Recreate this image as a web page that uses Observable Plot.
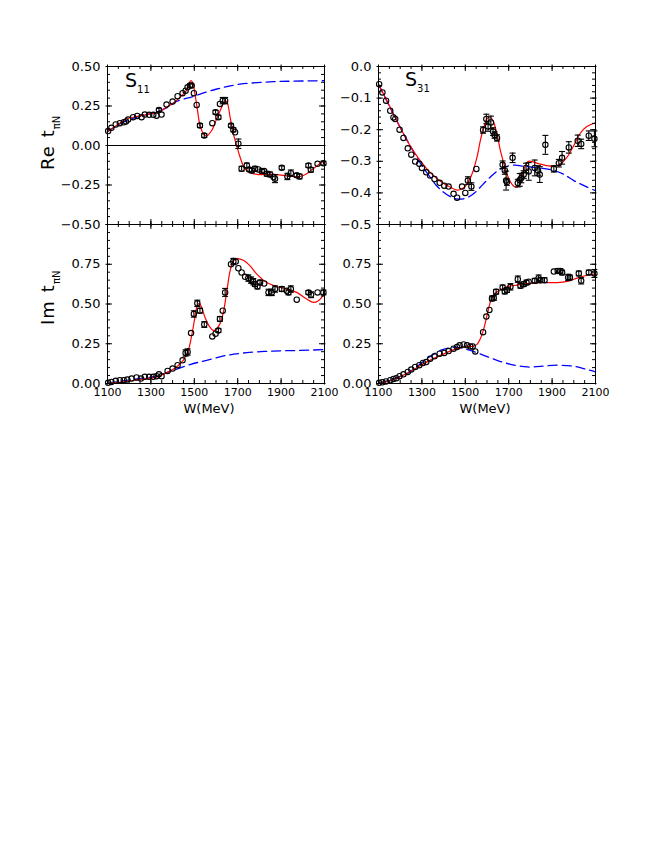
<!DOCTYPE html>
<html><head><meta charset="utf-8">
<script src="https://cdn.jsdelivr.net/npm/d3@7"></script>
<script src="https://cdn.jsdelivr.net/npm/@observablehq/plot@0.6"></script>
<style>
body{margin:0;background:#fff;}
#root{position:relative;width:654px;height:846px;overflow:hidden;font-family:"DejaVu Sans",sans-serif;}
.pan{position:absolute;}
#over{position:absolute;left:0;top:0;pointer-events:none;}
</style></head><body><div id="root"></div>
<script>
// ---- data: [W (MeV), value, error] ----
const s11ReData = [[1103,0.091,0],[1118,0.112,0],[1138,0.133,0],[1157,0.141,0],[1175,0.147,0],[1185,0.152,0],[1195,0.164,0],[1218,0.179,0],[1237,0.187,0],[1257,0.179,0],[1272,0.196,0],[1292,0.194,0],[1311,0.194,0],[1326,0.189,0],[1337,0.225,0.01],[1349,0.196,0],[1372,0.259,0],[1400,0.278,0],[1423,0.312,0],[1446,0.331,0],[1460,0.347,0],[1469,0.368,0],[1480,0.379,0.01],[1488,0.379,0],[1498,0.331,0],[1511,0.257,0],[1526,0.126,0.012],[1546,0.063,0.012],[1583,0.141,0],[1598,0.211,0.012],[1611,0.179,0.012],[1618,0.263,0],[1631,0.284,0.02],[1642,0.284,0.02],[1669,0.126,0.01],[1680,0.099,0.012],[1688,0.084,0],[1703,0.011,0.03],[1718,-0.147,0.015],[1742,-0.126,0.015],[1754,-0.152,0.012],[1765,-0.158,0.015],[1780,-0.147,0.015],[1795,-0.152,0],[1811,-0.162,0.012],[1822,-0.162,0],[1834,-0.179,0.015],[1849,-0.183,0.015],[1865,-0.2,0],[1872,-0.21,0.025],[1903,-0.141,0.012],[1929,-0.196,0.02],[1945,-0.175,0.02],[1972,-0.189,0.012],[1985,-0.196,0.015],[2026,-0.126,0.012],[2037,-0.154,0.015],[2068,-0.116,0],[2095,-0.112,0.012]];
const s11ReFit = [[1100,0.088],[1150,0.135],[1188,0.168],[1250,0.188],[1295,0.2],[1340,0.215],[1372,0.242],[1405,0.27],[1434,0.305],[1465,0.35],[1483,0.41],[1492,0.4],[1503,0.326],[1514,0.23],[1526,0.13],[1542,0.074],[1557,0.06],[1580,0.095],[1603,0.168],[1626,0.242],[1642,0.284],[1652,0.27],[1665,0.18],[1680,0.074],[1695,0.0],[1711,-0.074],[1729,-0.137],[1749,-0.168],[1788,-0.183],[1865,-0.183],[1942,-0.194],[1988,-0.196],[2018,-0.179],[2057,-0.137],[2100,-0.095]];
const s11ReBg = [[1100,0.088],[1175,0.15],[1249,0.185],[1320,0.21],[1372,0.238],[1420,0.28],[1495,0.31],[1550,0.336],[1600,0.356],[1650,0.373],[1711,0.388],[1790,0.398],[1865,0.404],[1950,0.407],[2100,0.41]];

const s31ReData = [[1103,-0.056,0],[1118,-0.082,0],[1135,-0.108,0],[1154,-0.14,0],[1169,-0.161,0],[1177,-0.166,0],[1197,-0.2,0],[1215,-0.226,0],[1235,-0.259,0],[1251,-0.279,0],[1269,-0.301,0],[1288,-0.308,0],[1300,-0.321,0],[1320,-0.335,0],[1338,-0.345,0],[1358,-0.356,0],[1382,-0.368,0],[1403,-0.377,0],[1423,-0.38,0],[1446,-0.403,0],[1462,-0.415,0],[1485,-0.38,0],[1500,-0.4,0],[1512,-0.361,0.012],[1528,-0.38,0.012],[1551,-0.324,0],[1582,-0.201,0.01],[1597,-0.166,0.015],[1605,-0.19,0.015],[1618,-0.177,0.02],[1628,-0.206,0.012],[1635,-0.217,0.01],[1646,-0.226,0.01],[1672,-0.311,0.012],[1682,-0.329,0.012],[1688,-0.361,0.03],[1692,-0.366,0.01],[1718,-0.289,0.015],[1742,-0.369,0.012],[1751,-0.359,0.02],[1758,-0.353,0.015],[1769,-0.342,0.012],[1780,-0.321,0.015],[1792,-0.332,0.028],[1820,-0.321,0.025],[1835,-0.329,0.015],[1843,-0.342,0.025],[1869,-0.248,0.03],[1908,-0.324,0.01],[1931,-0.306,0.012],[1946,-0.289,0.02],[1977,-0.256,0.018],[2018,-0.235,0.018],[2034,-0.245,0.015],[2069,-0.219,0.015],[2095,-0.229,0.025]];
const s31ReFit = [[1100,-0.056],[1154,-0.129],[1200,-0.193],[1246,-0.251],[1292,-0.298],[1338,-0.335],[1385,-0.363],[1431,-0.382],[1462,-0.391],[1485,-0.387],[1508,-0.372],[1531,-0.34],[1554,-0.287],[1569,-0.235],[1585,-0.193],[1600,-0.166],[1612,-0.159],[1628,-0.172],[1646,-0.214],[1662,-0.267],[1677,-0.305],[1692,-0.34],[1708,-0.365],[1722,-0.378],[1738,-0.382],[1753,-0.37],[1768,-0.33],[1791,-0.3],[1845,-0.309],[1906,-0.316],[1940,-0.308],[1968,-0.288],[2000,-0.25],[2029,-0.212],[2060,-0.19],[2100,-0.178]];
const s31ReBg = [[1100,-0.056],[1200,-0.193],[1292,-0.305],[1340,-0.352],[1369,-0.378],[1400,-0.398],[1431,-0.412],[1460,-0.419],[1477,-0.42],[1500,-0.417],[1523,-0.41],[1546,-0.398],[1569,-0.382],[1600,-0.36],[1631,-0.34],[1660,-0.325],[1692,-0.316],[1730,-0.312],[1760,-0.315],[1800,-0.318],[1846,-0.321],[1908,-0.329],[1950,-0.34],[2000,-0.361],[2050,-0.378],[2100,-0.393]];

const s11ImData = [[1103,0.004,0],[1118,0.01,0],[1138,0.017,0],[1157,0.021,0],[1175,0.021,0],[1191,0.025,0],[1211,0.031,0],[1234,0.038,0],[1254,0.031,0],[1272,0.042,0],[1292,0.042,0],[1311,0.042,0],[1326,0.046,0],[1337,0.058,0],[1349,0.046,0],[1377,0.079,0],[1400,0.094,0],[1423,0.115,0],[1446,0.146,0],[1460,0.192,0.02],[1469,0.198,0.02],[1485,0.317,0],[1498,0.4375,0.02],[1514,0.504,0.02],[1526,0.458,0.015],[1546,0.371,0.018],[1583,0.296,0],[1598,0.313,0],[1611,0.333,0.012],[1618,0.406,0.015],[1631,0.458,0],[1642,0.573,0.025],[1669,0.75,0],[1680,0.767,0.02],[1691,0.767,0],[1703,0.725,0],[1718,0.698,0],[1734,0.671,0],[1749,0.663,0.02],[1762,0.65,0.02],[1772,0.64,0.02],[1780,0.625,0.015],[1791,0.61,0.015],[1803,0.635,0.015],[1822,0.629,0],[1842,0.573,0.02],[1857,0.573,0.02],[1872,0.594,0.02],[1903,0.594,0.015],[1926,0.583,0],[1934,0.573,0.015],[1945,0.594,0.02],[1972,0.527,0],[2026,0.573,0.012],[2038,0.558,0.018],[2068,0.573,0],[2095,0.573,0.015]];
const s11ImFit = [[1100,0.0],[1180,0.012],[1249,0.025],[1326,0.042],[1380,0.073],[1418,0.104],[1449,0.146],[1472,0.208],[1488,0.302],[1503,0.417],[1514,0.49],[1523,0.504],[1534,0.479],[1549,0.417],[1572,0.354],[1588,0.333],[1603,0.344],[1618,0.375],[1634,0.448],[1649,0.573],[1665,0.708],[1680,0.771],[1695,0.785],[1726,0.775],[1757,0.74],[1788,0.688],[1834,0.635],[1880,0.61],[1926,0.594],[1972,0.573],[2018,0.531],[2049,0.51],[2072,0.521],[2100,0.567]];
const s11ImBg = [[1100,0.0],[1180,0.018],[1249,0.031],[1326,0.046],[1403,0.083],[1480,0.119],[1557,0.146],[1649,0.177],[1742,0.194],[1865,0.204],[1988,0.208],[2100,0.213]];

const s31ImData = [[1103,0.004,0],[1118,0.008,0],[1134,0.0125,0],[1154,0.021,0],[1169,0.029,0],[1182,0.033,0],[1197,0.046,0],[1215,0.058,0],[1235,0.073,0],[1251,0.0875,0],[1269,0.104,0],[1288,0.115,0],[1305,0.129,0],[1320,0.135,0],[1338,0.156,0],[1358,0.171,0],[1382,0.1875,0],[1403,0.192,0],[1423,0.204,0],[1446,0.219,0],[1462,0.229,0],[1474,0.24,0],[1492,0.246,0],[1508,0.24,0],[1523,0.233,0],[1534,0.233,0],[1546,0.202,0],[1582,0.323,0],[1597,0.421,0],[1611,0.4625,0],[1623,0.535,0.015],[1631,0.5375,0.015],[1642,0.577,0.015],[1672,0.604,0.015],[1682,0.579,0.015],[1692,0.5875,0.015],[1708,0.608,0.02],[1742,0.656,0.02],[1754,0.615,0.015],[1769,0.625,0.015],[1782,0.635,0.015],[1792,0.64,0],[1820,0.646,0.015],[1838,0.6625,0.02],[1846,0.65,0.015],[1865,0.65,0.015],[1908,0.704,0],[1926,0.708,0.015],[1938,0.708,0.015],[1946,0.698,0.015],[1974,0.667,0.02],[1982,0.667,0.015],[2023,0.692,0.015],[2034,0.646,0.02],[2069,0.698,0.015],[2095,0.692,0.025]];
const s31ImFit = [[1100,0.0],[1154,0.017],[1231,0.0625],[1308,0.125],[1385,0.177],[1462,0.219],[1508,0.233],[1538,0.235],[1554,0.246],[1569,0.281],[1585,0.344],[1600,0.427],[1615,0.51],[1631,0.558],[1654,0.583],[1692,0.608],[1738,0.619],[1785,0.629],[1846,0.635],[1923,0.635],[1969,0.642],[2015,0.6625],[2062,0.681],[2100,0.6875]];
const s31ImBg = [[1100,0.0],[1231,0.0625],[1323,0.156],[1385,0.208],[1431,0.225],[1477,0.225],[1523,0.208],[1585,0.177],[1646,0.146],[1708,0.121],[1785,0.104],[1846,0.108],[1923,0.115],[2000,0.108],[2062,0.0875],[2100,0.073]];

// ---- tick labels ----
const xTickLabels = [1100, 1300, 1500, 1700, 1900, 2100];
const xMinor = d3.range(1100, 2101, 50);
const yLabelsS11Re = [-0.5, -0.25, 0, 0.25, 0.5];
const yLabelsS31Re = [-0.5, -0.4, -0.3, -0.2, -0.1, 0];
const yLabelsIm = [0, 0.25, 0.5, 0.75];

const cap = {draw(ctx) { ctx.moveTo(-3, 0); ctx.lineTo(3, 0); }};
const IW = 217;

function panel(cfg) {
  const ml = 60, mr = 10, mt = 10, mb = cfg.showX ? 45 : 10;
  const IH = cfg.innerH;
  const X = d => d[0], Y = d => d[1];
  const err = cfg.data.filter(d => d[2] > 0);
  const marks = [];
  if (cfg.zero) marks.push(Plot.ruleY([0], {stroke: "black", strokeWidth: 1}));
  marks.push(Plot.line(cfg.bg, {x: X, y: Y, stroke: "#0000ff", strokeWidth: 1.3, strokeDasharray: "9,5", curve: "catmull-rom"}));
  marks.push(Plot.line(cfg.fit, {x: X, y: Y, stroke: "#ff0000", strokeWidth: 1.2, curve: "catmull-rom"}));
  marks.push(Plot.ruleX(err, {x: X, y1: d => d[1] - d[2], y2: d => d[1] + d[2], stroke: "black", strokeWidth: 1.1}));
  marks.push(Plot.dot(err, {x: X, y: d => d[1] - d[2], symbol: cap, stroke: "black", strokeWidth: 1.1}));
  marks.push(Plot.dot(err, {x: X, y: d => d[1] + d[2], symbol: cap, stroke: "black", strokeWidth: 1.1}));
  marks.push(Plot.dot(cfg.data, {x: X, y: Y, r: 2.7, stroke: "black", fill: "none", strokeWidth: 1.1}));
  const tk = (vals, len, out) => [
    Plot.tickX(vals.x, {x: d => d, insetTop: IH - len, insetBottom: -out, stroke: "black"}),
    Plot.tickX(vals.x, {x: d => d, insetBottom: IH - len, insetTop: -out, stroke: "black"}),
    Plot.tickY(vals.y, {y: d => d, insetRight: IW - len, insetLeft: -out, stroke: "black"}),
    Plot.tickY(vals.y, {y: d => d, insetLeft: IW - len, insetRight: -out, stroke: "black"})
  ];
  marks.push(...tk({x: xMinor, y: cfg.yMinor}, 3, 0));
  marks.push(...tk({x: xTickLabels, y: cfg.yMajor}, 5, 1.5));
  marks.push(Plot.frame({stroke: "black", strokeWidth: 1}));
  marks.push(Plot.axisY(cfg.yLabels, {tickSize: 0, tickPadding: 7, tickFormat: cfg.yFormat, fontSize: 13, label: null}));
  if (cfg.showX) {
    marks.push(Plot.axisX(xTickLabels, {tickSize: 0, tickPadding: 5, tickFormat: d => String(d), fontSize: 11, label: null}));
    marks.push(Plot.text(["W(MeV)"], {frameAnchor: "bottom", dy: 25, dx: cfg.labelDx, lineAnchor: "middle", fontSize: 13, text: d => d}));
  }
  const svg = Plot.plot({
    width: ml + IW + mr, height: mt + IH + mb,
    marginLeft: ml, marginRight: mr, marginTop: mt, marginBottom: mb,
    x: {domain: [1100, 2100], axis: cfg.showX ? undefined : null},
    y: {domain: cfg.yDomain},
    style: {background: "transparent", overflow: "visible", fontFamily: "DejaVu Sans, sans-serif", color: "black"},
    marks
  });
  const div = document.createElement("div");
  div.className = "pan";
  div.style.left = (cfg.left - ml) + "px";
  div.style.top = (cfg.top - mt) + "px";
  div.appendChild(svg);
  document.getElementById("root").appendChild(div);
}

const f2 = d3.format(".2f"), f1 = d3.format(".1f");
const step = (a, b, s) => d3.range(0, Math.round((b - a) / s) + 1).map(i => +(a + i * s).toFixed(4));

panel({left: 107, top: 66, innerH: 158, showX: false, zero: true, data: s11ReData, fit: s11ReFit, bg: s11ReBg,
  yDomain: [-0.5, 0.5], yLabels: yLabelsS11Re, yMajor: yLabelsS11Re, yMinor: step(-0.5, 0.5, 0.05), yFormat: f2});
panel({left: 378, top: 66, innerH: 158, showX: false, data: s31ReData, fit: s31ReFit, bg: s31ReBg,
  yDomain: [-0.5, 0], yLabels: yLabelsS31Re, yMajor: yLabelsS31Re, yMinor: step(-0.5, 0, 0.02), yFormat: f1});
panel({left: 107, top: 224, innerH: 159, showX: true, labelDx: -7, data: s11ImData, fit: s11ImFit, bg: s11ImBg,
  yDomain: [0, 1], yLabels: yLabelsIm, yMajor: [0, 0.25, 0.5, 0.75, 1], yMinor: step(0, 1, 0.05), yFormat: f2});
panel({left: 378, top: 224, innerH: 159, showX: true, labelDx: -2, data: s31ImData, fit: s31ImFit, bg: s31ImBg,
  yDomain: [0, 1], yLabels: yLabelsIm, yMajor: [0, 0.25, 0.5, 0.75, 1], yMinor: step(0, 1, 0.05), yFormat: f2});

// overlay text
const NS = "http://www.w3.org/2000/svg";
const over = document.createElementNS(NS, "svg");
over.setAttribute("id", "over"); over.setAttribute("width", 654); over.setAttribute("height", 846);
over.setAttribute("font-family", "DejaVu Sans, sans-serif");
over.innerHTML = `
<text x="125" y="87" font-size="19">S<tspan dy="6" font-size="10">11</tspan></text>
<text x="405" y="86" font-size="19">S<tspan dy="6" font-size="10">31</tspan></text>
<text transform="translate(54,170) rotate(-90)" font-size="18" letter-spacing="1">Re<tspan dx="8">t</tspan><tspan dy="6" font-size="10" letter-spacing="0">πN</tspan></text>
<text transform="translate(54,325) rotate(-90)" font-size="18" letter-spacing="1">Im<tspan dx="8">t</tspan><tspan dy="6" font-size="10" letter-spacing="0">πN</tspan></text>
`;
document.getElementById("root").appendChild(over);
</script></body></html>
